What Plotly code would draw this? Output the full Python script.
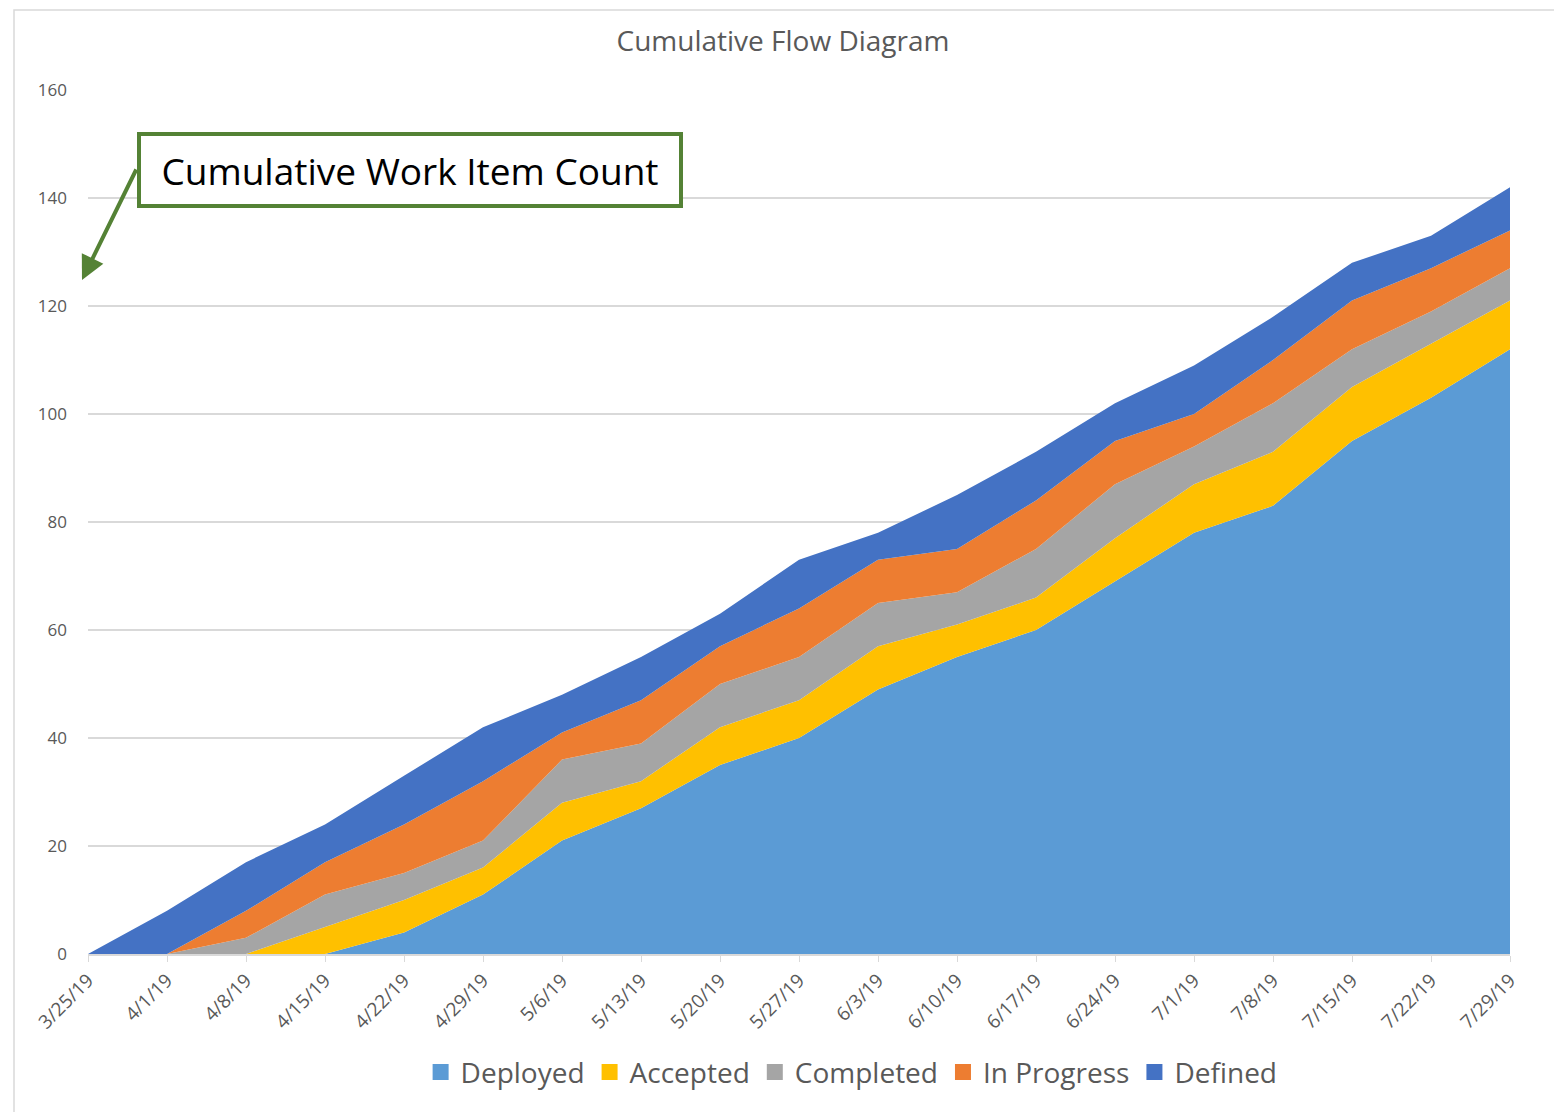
import plotly.graph_objects as go

weeks = [
    "3/25/19", "4/1/19", "4/8/19", "4/15/19", "4/22/19", "4/29/19",
    "5/6/19", "5/13/19", "5/20/19", "5/27/19", "6/3/19", "6/10/19",
    "6/17/19", "6/24/19", "7/1/19", "7/8/19", "7/15/19", "7/22/19",
    "7/29/19"
]

# work items sitting in each state per week (stacked to give the cumulative flow)
deployed = [0, 0, 0, 0, 4, 11, 21, 27, 35, 40, 49, 55, 60, 69, 78, 83, 95, 103, 112]
accepted = [0, 0, 0, 5, 6, 5, 7, 5, 7, 7, 8, 6, 6, 8, 9, 10, 10, 10, 9]
completed = [0, 0, 3, 6, 5, 5, 8, 7, 8, 8, 8, 6, 9, 10, 7, 9, 7, 6, 6]
in_progress = [0, 0, 5, 6, 9, 11, 5, 8, 7, 9, 8, 8, 9, 8, 6, 8, 9, 8, 7]
defined = [0, 8, 9, 7, 9, 10, 7, 8, 6, 9, 5, 10, 9, 7, 9, 8, 7, 6, 8]

y_ticks = [0, 20, 40, 60, 80, 100, 120, 140, 160]

series = [
    ("Deployed", deployed, "#5B9BD5"),
    ("Accepted", accepted, "#FFC000"),
    ("Completed", completed, "#A5A5A5"),
    ("In Progress", in_progress, "#ED7D31"),
    ("Defined", defined, "#4472C4"),
]

FONT = "Open Sans"
GREY = "#595959"

fig = go.Figure()

for name, values, color in series:
    fig.add_trace(
        go.Scatter(
            x=weeks,
            y=values,
            name=name,
            mode="lines",
            stackgroup="flow",
            line=dict(width=0, color=color),
            fillcolor=color,
            showlegend=False
        )
    )

# square legend keys like the spreadsheet legend
for name, values, color in series:
    fig.add_trace(
        go.Scatter(
            x=[None],
            y=[None],
            name=name,
            mode="markers",
            marker=dict(symbol="square", size=16, color=color),
            showlegend=True
        )
    )

fig.update_layout(
    width=1562,
    height=1112,
    paper_bgcolor="white",
    plot_bgcolor="white",
    margin=dict(l=80, r=60, t=82, b=166),
    font=dict(family=FONT, color=GREY),
    title=dict(
        text="Cumulative Flow Diagram",
        x=775 / 1562,
        xanchor="center",
        y=1 - 33 / 1112,
        yanchor="middle",
        font=dict(size=28, color=GREY, family=FONT)
    ),
    legend=dict(
        orientation="h",
        x=0.537,
        xanchor="center",
        y=-0.108,
        yanchor="top",
        font=dict(size=28, color=GREY, family=FONT),
        traceorder="normal"
    ),
    showlegend=True
)

fig.update_xaxes(
    type="category",
    range=[0, len(weeks) - 1],
    tickangle=-45,
    tickfont=dict(size=19, color=GREY),
    showgrid=False,
    showline=True,
    linecolor="#d9d9d9",
    linewidth=1.5,
    ticks="outside",
    ticklen=6,
    tickcolor="#d9d9d9",
    zeroline=False
)

fig.update_yaxes(
    range=[0, 160],
    tickvals=y_ticks,
    tickfont=dict(size=17, color=GREY),
    showgrid=True,
    gridcolor="#d9d9d9",
    gridwidth=1.5,
    showline=False,
    zeroline=False,
    ticks="",
    ticklabelstandoff=20
)

# chart border like the spreadsheet frame
fig.add_shape(
    type="rect",
    xref="paper", yref="paper",
    x0=(14 - 88) / 1422, x1=(1555 - 88) / 1422,
    y0=(954 - 1120) / 864, y1=(954 - 10) / 864,
    line=dict(color="#d9d9d9", width=1.5),
    fillcolor="rgba(0,0,0,0)",
    layer="below"
)

# callout box with arrow pointing at the y axis
fig.add_annotation(
    xref="paper", yref="paper",
    x=(82 - 88) / 1422, y=(954 - 280) / 864,
    ax=55, ay=-112,
    text="",
    showarrow=True,
    arrowhead=2,
    arrowsize=1.2,
    arrowwidth=4,
    arrowcolor="#548235"
)

fig.add_annotation(
    xref="paper", yref="paper",
    x=(410 - 88) / 1422, y=(954 - 170) / 864,
    xanchor="center", yanchor="middle",
    text="Cumulative Work Item Count",
    showarrow=False,
    font=dict(size=37, color="black", family=FONT),
    bgcolor="white",
    bordercolor="#548235",
    borderwidth=4,
    width=536,
    height=66
)

fig.write_html("out.html")
